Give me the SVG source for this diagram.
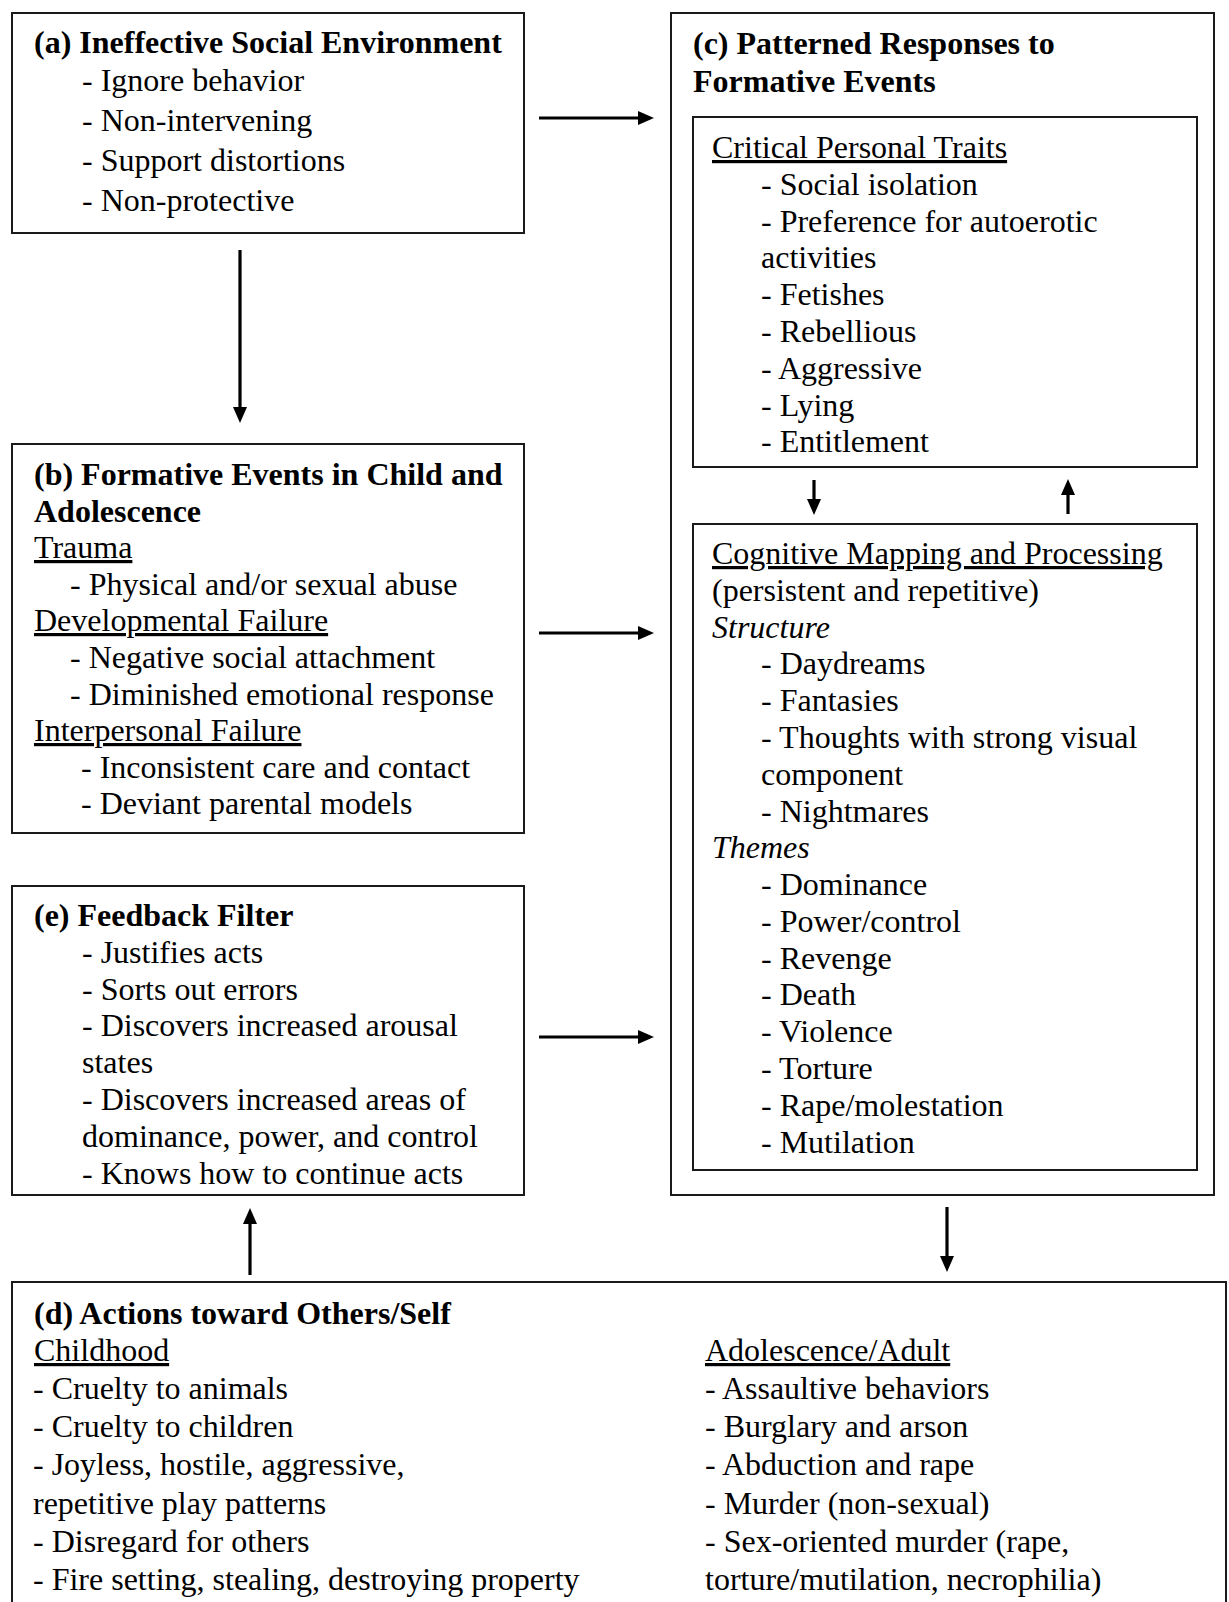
<svg xmlns="http://www.w3.org/2000/svg" width="1229" height="1602" viewBox="0 0 1229 1602">
  <style>
    .box { fill: #ffffff; stroke: #1a1a1a; stroke-width: 2; }
    text { font-family: "Liberation Serif", "Times New Roman", serif; font-size: 32px; fill: #000000; }
    .b { font-weight: bold; }
    .i { font-style: italic; }
    .u { text-decoration: underline; }
    .conn { stroke: #000000; stroke-width: 3.2; fill: none; }
  </style>
  <defs>
    <!-- filled arrowhead, 16 long x 14 wide; line stops 14px before the tip -->
    <marker id="head" viewBox="0 0 16 14" refX="2" refY="7" markerWidth="16" markerHeight="14" markerUnits="userSpaceOnUse" orient="auto">
      <path d="M0,0 L16,7 L0,14 Z" fill="#000000"/>
    </marker>
  </defs>
  <rect width="1229" height="1602" fill="#ffffff"/>

  <!-- (a) Ineffective Social Environment -->
  <g id="node-a">
    <rect class="box" x="12" y="13" width="512" height="220"/>
    <text class="b" x="34" y="53">(a) Ineffective Social Environment</text>
    <text x="82" y="91">- Ignore behavior</text>
    <text x="82" y="131">- Non-intervening</text>
    <text x="82" y="171">- Support distortions</text>
    <text x="82" y="211">- Non-protective</text>
  </g>

  <!-- (b) Formative Events in Child and Adolescence -->
  <g id="node-b">
    <rect class="box" x="12" y="444" width="512" height="389"/>
    <text class="b" x="34" y="485">(b) Formative Events in Child and</text>
    <text class="b" x="34" y="521.5">Adolescence</text>
    <text class="u" x="34" y="558">Trauma</text>
    <text x="70" y="594.5">- Physical and/or sexual abuse</text>
    <text class="u" x="34" y="631">Developmental Failure</text>
    <text x="70" y="668">- Negative social attachment</text>
    <text x="70" y="704.5">- Diminished emotional response</text>
    <text class="u" x="34" y="741">Interpersonal Failure</text>
    <text x="81" y="777.5">- Inconsistent care and contact</text>
    <text x="81" y="814">- Deviant parental models</text>
  </g>

  <!-- (e) Feedback Filter -->
  <g id="node-e">
    <rect class="box" x="12" y="886" width="512" height="309"/>
    <text class="b" x="34" y="926">(e) Feedback Filter</text>
    <text x="82" y="963">- Justifies acts</text>
    <text x="82" y="1000">- Sorts out errors</text>
    <text x="82" y="1036">- Discovers increased arousal</text>
    <text x="82" y="1073">states</text>
    <text x="82" y="1110">- Discovers increased areas of</text>
    <text x="82" y="1147">dominance, power, and control</text>
    <text x="82" y="1184">- Knows how to continue acts</text>
  </g>

  <!-- (c) Patterned Responses to Formative Events -->
  <g id="node-c">
    <rect class="box" x="671" y="13" width="543" height="1182"/>
    <text class="b" x="693" y="54">(c) Patterned Responses to</text>
    <text class="b" x="693" y="92">Formative Events</text>
  </g>

  <!-- Critical Personal Traits -->
  <g id="node-c-traits">
    <rect class="box" x="693" y="117" width="504" height="350"/>
    <text class="u" x="712" y="158">Critical Personal Traits</text>
    <text x="761" y="194.8">- Social isolation</text>
    <text x="761" y="231.6">- Preference for autoerotic</text>
    <text x="761" y="268.3">activities</text>
    <text x="761" y="305">- Fetishes</text>
    <text x="761" y="341.9">- Rebellious</text>
    <text x="761" y="378.7">- Aggressive</text>
    <text x="761" y="415.5">- Lying</text>
    <text x="761" y="452.2">- Entitlement</text>
  </g>

  <!-- Cognitive Mapping and Processing -->
  <g id="node-c-cognitive">
    <rect class="box" x="693" y="524" width="504" height="646"/>
    <text class="u" x="712" y="564">Cognitive Mapping and Processing</text>
    <text x="712" y="600.8">(persistent and repetitive)</text>
    <text class="i" x="712" y="637.6">Structure</text>
    <text x="761" y="674.3">- Daydreams</text>
    <text x="761" y="711.1">- Fantasies</text>
    <text x="761" y="747.9">- Thoughts with strong visual</text>
    <text x="761" y="784.7">component</text>
    <text x="761" y="821.5">- Nightmares</text>
    <text class="i" x="712" y="858.2">Themes</text>
    <text x="761" y="895">- Dominance</text>
    <text x="761" y="931.8">- Power/control</text>
    <text x="761" y="968.6">- Revenge</text>
    <text x="761" y="1005.4">- Death</text>
    <text x="761" y="1042.1">- Violence</text>
    <text x="761" y="1078.9">- Torture</text>
    <text x="761" y="1115.7">- Rape/molestation</text>
    <text x="761" y="1152.5">- Mutilation</text>
  </g>

  <!-- (d) Actions toward Others/Self -->
  <g id="node-d">
    <rect class="box" x="12" y="1282" width="1214" height="340"/>
    <text class="b" x="34" y="1324">(d) Actions toward Others/Self</text>
    <text class="u" x="34" y="1361">Childhood</text>
    <text x="33" y="1399">- Cruelty to animals</text>
    <text x="33" y="1437">- Cruelty to children</text>
    <text x="33" y="1475">- Joyless, hostile, aggressive,</text>
    <text x="33" y="1514">repetitive play patterns</text>
    <text x="33" y="1552">- Disregard for others</text>
    <text x="33" y="1590">- Fire setting, stealing, destroying property</text>
    <text class="u" x="705" y="1361">Adolescence/Adult</text>
    <text x="705" y="1399">- Assaultive behaviors</text>
    <text x="705" y="1437">- Burglary and arson</text>
    <text x="705" y="1475">- Abduction and rape</text>
    <text x="705" y="1514">- Murder (non-sexual)</text>
    <text x="705" y="1552">- Sex-oriented murder (rape,</text>
    <text x="705" y="1590">torture/mutilation, necrophilia)</text>
  </g>

  <!-- Connectors: each line ends 14px short of its arrow tip -->
  <g id="connectors">
    <line class="conn" x1="539" y1="118" x2="640" y2="118" marker-end="url(#head)"/>
    <line class="conn" x1="240" y1="250" x2="240" y2="409" marker-end="url(#head)"/>
    <line class="conn" x1="539" y1="633" x2="640" y2="633" marker-end="url(#head)"/>
    <line class="conn" x1="539" y1="1037" x2="640" y2="1037" marker-end="url(#head)"/>
    <line class="conn" x1="814" y1="480" x2="814" y2="501" marker-end="url(#head)"/>
    <line class="conn" x1="1068" y1="514" x2="1068" y2="493" marker-end="url(#head)"/>
    <line class="conn" x1="947" y1="1207" x2="947" y2="1258" marker-end="url(#head)"/>
    <line class="conn" x1="250" y1="1275" x2="250" y2="1222" marker-end="url(#head)"/>
  </g>
</svg>
